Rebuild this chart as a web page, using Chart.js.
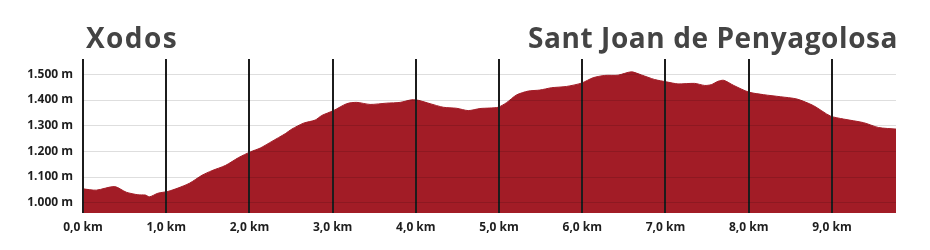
<!DOCTYPE html>
<html>
<head>
<meta charset="utf-8">
<script src="https://cdn.jsdelivr.net/npm/chart.js@4/dist/chart.umd.min.js"></script>
<style>
  html, body { margin: 0; padding: 0; background: #ffffff; }
  #wrap { width: 930px; height: 250px; position: relative; }
</style>
</head>
<body>
<div id="wrap"><canvas id="c"></canvas></div>
<script>
// Distance along the route (km) and elevation (m), read from the profile
const distKm = [0.00, 0.16, 0.38, 0.52, 0.66, 0.75, 0.80, 0.90, 1.02, 1.14, 1.28, 1.43, 1.55, 1.71, 1.87, 2.01, 2.13, 2.27, 2.43, 2.51, 2.65, 2.79, 2.87, 3.01, 3.17, 3.29, 3.45, 3.65, 3.81, 3.95, 4.03, 4.17, 4.33, 4.49, 4.63, 4.77, 4.89, 4.99, 5.09, 5.21, 5.35, 5.49, 5.63, 5.81, 5.99, 6.13, 6.27, 6.43, 6.59, 6.71, 6.87, 7.01, 7.15, 7.35, 7.47, 7.55, 7.63, 7.70, 7.82, 8.00, 8.18, 8.38, 8.58, 8.78, 8.98, 9.14, 9.38, 9.56, 9.77];
const elevM  = [1054, 1049, 1063, 1041, 1031, 1030, 1023, 1037, 1044, 1057, 1076, 1107, 1125, 1145, 1176, 1198, 1213, 1239, 1269, 1287, 1310, 1322, 1340, 1359, 1386, 1391, 1383, 1388, 1391, 1401, 1399, 1386, 1372, 1368, 1359, 1367, 1369, 1372, 1390, 1420, 1435, 1439, 1448, 1453, 1466, 1487, 1496, 1497, 1510, 1498, 1480, 1471, 1463, 1465, 1457, 1460, 1473, 1477, 1457, 1431, 1421, 1413, 1404, 1378, 1338, 1326, 1312, 1293, 1287];
const xTickKm = [0, 1, 2, 3, 4, 5, 6, 7, 8, 9];
const yTickM  = [1000, 1100, 1200, 1300, 1400, 1500];
const startName = "Xodos";
const endName = "Sant Joan de Penyagolosa";

const points = distKm.map((d, i) => ({ x: d, y: elevM[i] }));

function fitText(ctx, text, targetW) {
  ctx.letterSpacing = '0px';
  const w = ctx.measureText(text).width;
  const n = [...text].length;
  const sp = (targetW - w) / n;
  ctx.letterSpacing = sp.toFixed(2) + 'px';
}

const titlesPlugin = {
  id: 'titles',
  afterDraw(chart) {
    const { ctx, chartArea } = chart;
    ctx.save();
    ctx.font = 'bold 28px "Open Sans"';
    ctx.fillStyle = '#444444';
    ctx.textBaseline = 'alphabetic';
    ctx.textAlign = 'left';
    fitText(ctx, startName, 92);
    ctx.fillText(startName, chartArea.left + 3, 48);
    ctx.textAlign = 'left';
    fitText(ctx, endName, 370);
    ctx.fillText(endName, chartArea.right + 2 - 370, 48);
    ctx.restore();
  }
};

new Chart(document.getElementById('c'), {
  type: 'line',
  data: {
    datasets: [{
      data: points,
      fill: 'start',
      backgroundColor: '#a21c26',
      borderColor: '#a21c26',
      borderWidth: 1,
      pointRadius: 0,
      tension: 0.25
    }]
  },
  options: {
    responsive: true,
    maintainAspectRatio: false,
    animation: false,
    layout: { padding: { top: 59, right: 34, bottom: 0, left: 0 } },
    plugins: { legend: { display: false }, tooltip: { enabled: false } },
    scales: {
      x: {
        type: 'linear',
        min: 0,
        max: distKm[distKm.length - 1],
        afterBuildTicks(scale) { scale.ticks = xTickKm.map(v => ({ value: v })); },
        afterFit(scale) { scale.height = 37; },
        grid: { color: '#1c1c1c', lineWidth: 2, drawTicks: false, z: 1 },
        border: { display: false },
        ticks: {
          padding: 7,
          color: '#1e1e1e',
          font: { family: 'Open Sans', weight: 'bold', size: 12 },
          callback: v => v.toFixed(1).replace('.', ',') + ' km'
        }
      },
      y: {
        min: 960,
        max: 1560,
        afterBuildTicks(scale) { scale.ticks = yTickM.map(v => ({ value: v })); },
        afterFit(scale) { scale.width = 83; },
        grid: { color: 'rgba(0,0,0,0.13)', lineWidth: 1, drawTicks: false, z: 1 },
        border: { display: false },
        ticks: {
          padding: 10,
          color: '#1e1e1e',
          font: { family: 'Open Sans', weight: 'bold', size: 12 },
          callback: v => v.toLocaleString('de-DE') + ' m'
        }
      }
    }
  },
  plugins: [titlesPlugin]
});
</script>
</body>
</html>
